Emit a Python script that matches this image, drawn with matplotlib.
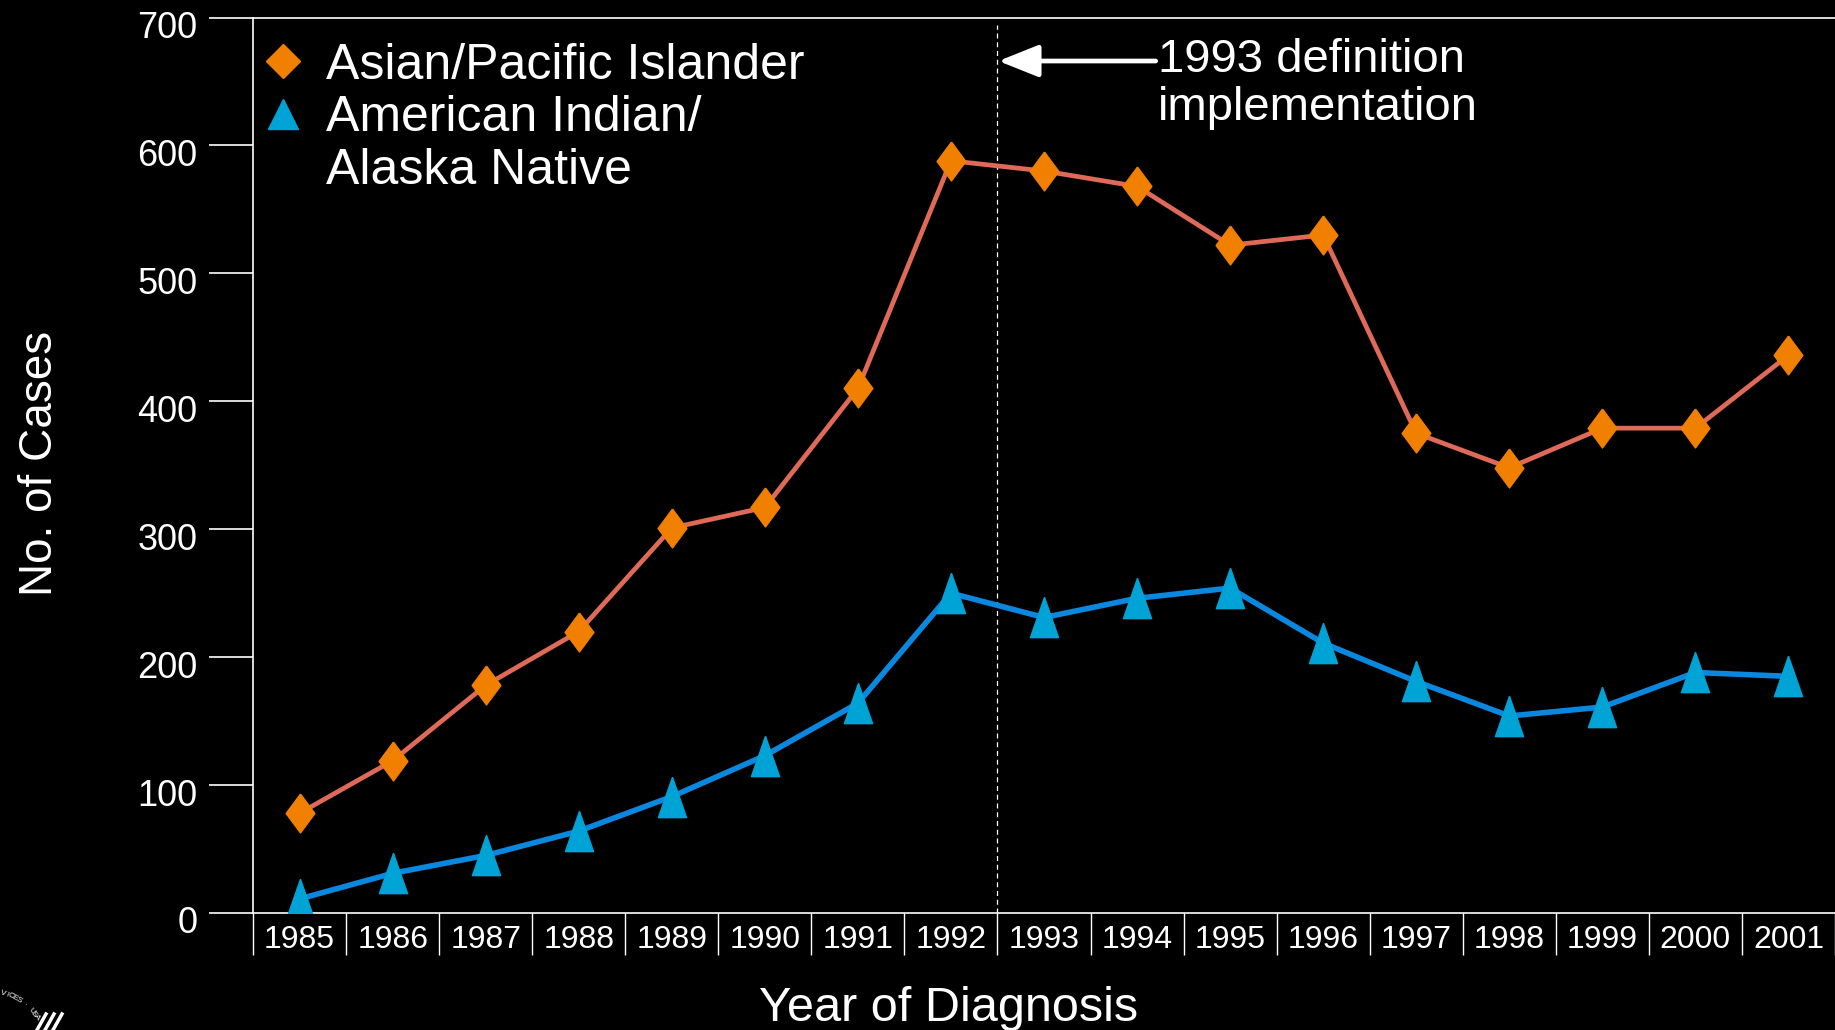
import numpy as np
import matplotlib
matplotlib.use("Agg")
import matplotlib.pyplot as plt
from matplotlib.lines import Line2D
from matplotlib.transforms import ScaledTranslation

plt.rcParams["font.family"] = ["Liberation Sans", "DejaVu Sans"]

YEARS = [1985, 1986, 1987, 1988, 1989, 1990, 1991, 1992, 1993,
         1994, 1995, 1996, 1997, 1998, 1999, 2000, 2001]
ASIAN_PI = [78, 119, 178, 220, 301, 317, 410, 588, 580,
            568, 522, 530, 375, 348, 379, 379, 436]
AI_AN = [11, 31, 45, 64, 91, 123, 164, 250, 231,
         246, 254, 211, 181, 154, 161, 188, 185]

LABEL_API = "Asian/Pacific Islander"
LABEL_AIAN = ["American Indian/", "Alaska Native"]
NOTE = "1993 definition\nimplementation"

# tall markers like the slide's
DIAMOND = [(0, 1), (0.74, 0), (0, -1), (-0.74, 0), (0, 1)]
TRIANGLE = [(0, 1), (0.7, -1), (-0.7, -1), (0, 1)]

C_API_LINE, C_API_MK = "#E06A58", "#F28000"
C_AI_LINE, C_AI_MK = "#0A88E0", "#00A3D6"

fig = plt.figure(figsize=(18.35, 10.3), dpi=100, facecolor="black")
ax = fig.add_axes([0.1379, 0.1136, 0.8621, 0.8694], facecolor="black")

x = np.arange(len(YEARS))
ax.plot(x, ASIAN_PI, color=C_API_LINE, lw=3.4, zorder=3)
ax.plot(x, ASIAN_PI, ls="none", marker=DIAMOND, ms=28, color=C_API_MK,
        mec=C_API_MK, zorder=4)
ax.plot(x, AI_AN, color=C_AI_LINE, lw=4.0, zorder=3)
ax.plot(x, AI_AN, ls="none", marker=TRIANGLE, ms=29, color=C_AI_MK,
        mec=C_AI_MK, zorder=4)

ax.set_xlim(-0.5, len(YEARS) - 0.5)
ax.set_ylim(0, 700)

# dashed marker of the definition change
ax.vlines(7.5, 0, 694, colors="white", lw=0.9, linestyles=(0, (4, 3)), zorder=2)
ax.annotate("", xy=(7.51, 666), xytext=(9.2, 666),
            arrowprops=dict(arrowstyle="-|>,head_length=0.55,head_width=0.22",
                            lw=3.4, color="white", mutation_scale=45,
                            shrinkA=0, shrinkB=0))
ax.text(9.22, 648, NOTE, color="white", fontsize=34, ha="left", va="center",
        linespacing=1.1)

# axes styling
for s in ("left", "top", "bottom"):
    ax.spines[s].set_color("white")
    ax.spines[s].set_linewidth(1.2)
ax.spines["right"].set_visible(False)

ax.set_yticks(range(0, 701, 100))
ax.tick_params(axis="y", colors="white", length=32, width=1.2, pad=8,
               labelsize=26)
# labels sit a little below their ticks on the slide
for lab in ax.get_yticklabels():
    lab.set_transform(lab.get_transform() +
                      ScaledTranslation(0, -5 / 72, fig.dpi_scale_trans))
ax.set_xticks(x)
ax.set_xticklabels([str(y) for y in YEARS])
ax.set_xticks(np.arange(-0.5, len(YEARS)), minor=True)
ax.tick_params(axis="x", which="major", length=0, colors="white", pad=9,
               labelsize=23)
ax.tick_params(axis="x", which="minor", length=30, width=1.0, colors="white")

fig.text(0.022, 0.55, "No. of Cases", rotation=90, color="white",
         fontsize=33, ha="center", va="center")
fig.text(0.517, 0.009, "Year of Diagnosis", color="white", fontsize=35,
         ha="center", va="baseline")

handles = [
    Line2D([], [], ls="none", marker="D", ms=17, color=C_API_MK),
    Line2D([], [], ls="none", marker="^", ms=22, color=C_AI_MK),
    Line2D([], [], ls="none"),
]
leg = ax.legend(handles, [LABEL_API] + LABEL_AIAN, loc="upper left",
                bbox_to_anchor=(0.0063, 0.972), frameon=False, fontsize=36,
                labelcolor="white", borderpad=0, borderaxespad=0,
                handlelength=0.8, handletextpad=0.45, labelspacing=0.13)

# corner of the seal at bottom left
seal = "VICES · USA"
cx, cy, r = -17, 1056, 66
angs = np.linspace(72, 36, len(seal))
for ch, a in zip(seal, angs):
    px = cx + r * np.cos(np.radians(a))
    py = cy - r * np.sin(np.radians(a))
    fig.text(px / 1835, 1 - py / 1030, ch, color="white", fontsize=6,
             rotation=a - 90, ha="center", va="center")
for x0 in (37, 45, 53):
    fig.add_artist(Line2D([x0 / 1835, (x0 + 9) / 1835],
                          [1 - 1030 / 1030, 1 - 1014 / 1030],
                          color="white", lw=2.5, transform=fig.transFigure))

fig.savefig("out.png", dpi=100, facecolor="black")
